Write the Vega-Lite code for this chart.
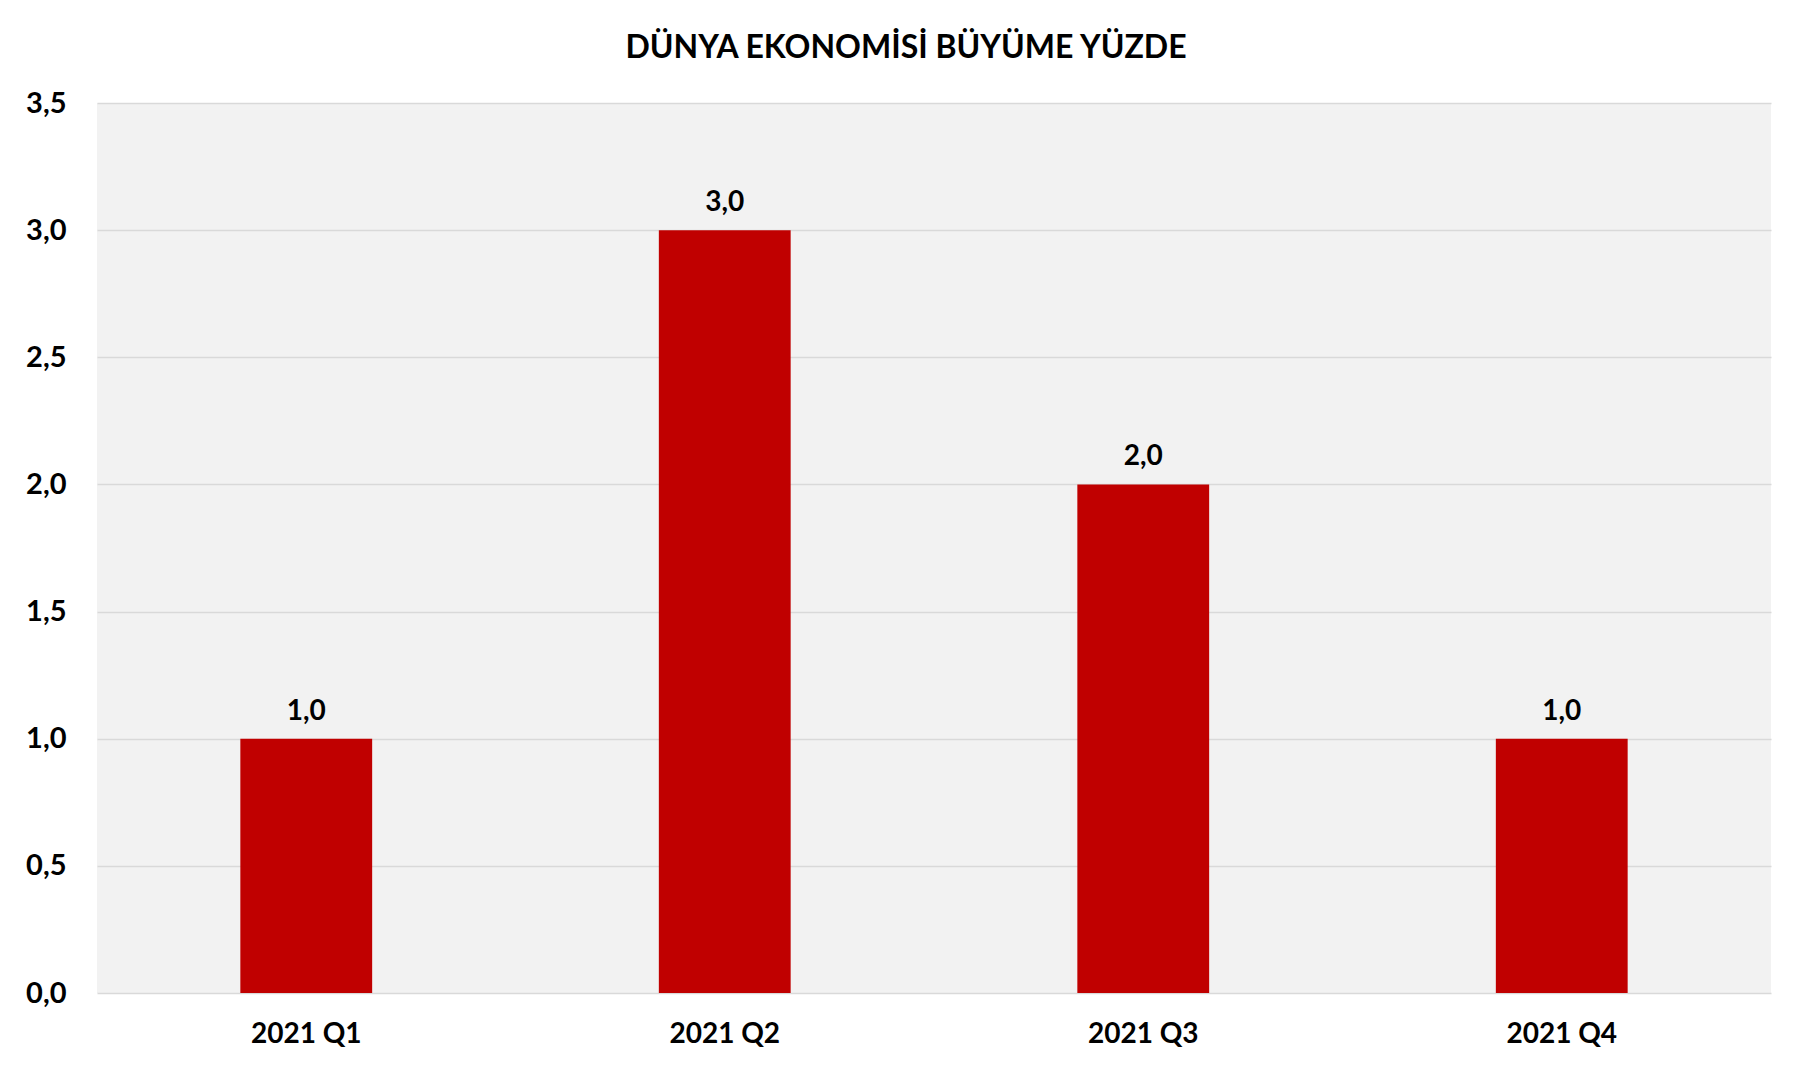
{
  "$schema": "https://vega.github.io/schema/vega-lite/v6.json",
  "width": 1674,
  "height": 890,
  "autosize": {"type": "none"},
  "padding": {"left": 97, "top": 103, "right": 41, "bottom": 75},
  "background": "white",
  "title": {
    "text": "DÜNYA EKONOMİSİ BÜYÜME YÜZDE",
    "font": "Lato",
    "fontSize": 32,
    "fontWeight": "bold",
    "color": "#000000",
    "anchor": "middle",
    "frame": "group",
    "dx": -28,
    "offset": 24
  },
  "data": {
    "values": [
      {"quarter": "2021 Q1", "value": 1.0},
      {"quarter": "2021 Q2", "value": 3.0},
      {"quarter": "2021 Q3", "value": 2.0},
      {"quarter": "2021 Q4", "value": 1.0}
    ]
  },
  "encoding": {
    "x": {
      "field": "quarter",
      "type": "nominal",
      "sort": null,
      "scale": {"paddingInner": 0.685, "paddingOuter": 0.3425},
      "axis": {
        "title": null,
        "labelAngle": 0,
        "ticks": false,
        "tickSize": 0,
        "domain": false,
        "grid": false,
        "labelPadding": 27,
        "labelFont": "Lato",
        "labelFontSize": 28,
        "labelFontWeight": "bold",
        "labelColor": "#000000"
      }
    },
    "y": {
      "field": "value",
      "type": "quantitative",
      "scale": {"domain": [0, 3.5], "nice": false},
      "axis": {
        "title": null,
        "values": [0, 0.5, 1, 1.5, 2, 2.5, 3, 3.5],
        "format": ".1f",
        "ticks": false,
        "tickSize": 0,
        "domain": false,
        "grid": true,
        "gridColor": "#d9d9d9",
        "gridWidth": 1.5,
        "labelPadding": 31,
        "labelFont": "Lato",
        "labelFontSize": 29,
        "labelFontWeight": "bold",
        "labelColor": "#000000"
      }
    }
  },
  "layer": [
    {"mark": {"type": "bar", "color": "#c00000"}},
    {
      "mark": {
        "type": "text",
        "baseline": "alphabetic",
        "dy": -19,
        "font": "Lato",
        "fontSize": 28,
        "fontWeight": "bold",
        "color": "#000000"
      },
      "encoding": {"text": {"field": "value", "type": "quantitative", "format": ".1f"}}
    }
  ],
  "config": {
    "view": {"fill": "#f2f2f2", "stroke": null},
    "locale": {
      "number": {"decimal": ",", "thousands": ".", "grouping": [3], "currency": ["", " ₺"]}
    }
  }
}
